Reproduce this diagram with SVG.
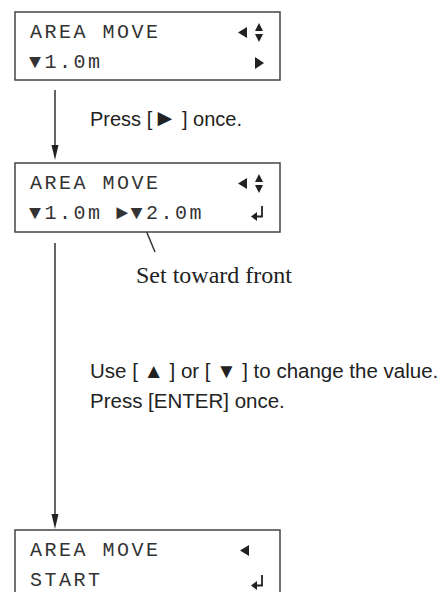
<svg xmlns="http://www.w3.org/2000/svg" width="446" height="592" viewBox="0 0 446 592">
<style>
.box{fill:#fff;stroke:#444;stroke-width:1.5}
.lcd{font-family:"Liberation Mono","Courier New",monospace;font-size:20px;fill:#333}
.sp{letter-spacing:2.5px}
.ico{fill:#222}
.lbl{font-family:"Liberation Sans",Arial,sans-serif;font-size:20px;fill:#222}
.lbl2{font-family:"Liberation Sans",Arial,sans-serif;font-size:20.5px;fill:#222}
.note{font-family:"Liberation Serif","Times New Roman",serif;font-size:24px;fill:#222}
.ln{stroke:#333;stroke-width:1.5;fill:none}
</style>
<defs>
<g id="updown"><polygon points="255,31 263,31 259,23"/><polygon points="255,34 263,34 259,42"/></g>
<g id="left"><polygon points="238,32.5 247,27 247,38"/></g>
<g id="enter"><path d="M262,206 V216.5 H256" stroke="#222" stroke-width="1.8" fill="none"/><polygon points="251,216.5 257,212 257,221"/></g>
</defs>

<g id="connectors">
<line class="ln" x1="55" y1="90" x2="55" y2="146"/>
<polygon points="51.5,145 58.5,145 55,160" fill="#222"/>
<line class="ln" x1="55" y1="243" x2="55" y2="515"/>
<polygon points="51.5,514 58.5,514 55,529" fill="#222"/>
<line class="ln" x1="145" y1="228" x2="155" y2="252" stroke-width="1"/>
</g>

<g id="screen1">
<rect class="box" x="15" y="12" width="265" height="68"/>
<text class="lcd sp" x="30" y="38">AREA MOVE</text>
<text class="lcd" x="29 44.5 59 73.5 88" y="68">▼1.0m</text>
<g class="ico"><use href="#left"/><use href="#updown"/><polygon points="255,57 255,69 264,63"/></g>
</g>

<g id="label1">
<text class="lbl" y="126"><tspan x="90">Press [</tspan><tspan x="153" font-size="24">►</tspan><tspan x="182">] once.</tspan></text>
</g>

<g id="screen2">
<rect class="box" x="15" y="163" width="265" height="69"/>
<text class="lcd sp" x="30" y="189">AREA MOVE</text>
<text class="lcd" x="29 44.5 59 73.5 88 102.5 116 130.5 146 160.5 175 189.5" y="219">▼1.0m ►▼2.0m</text>
<g class="ico" transform="translate(0,151)"><use href="#left"/><use href="#updown"/></g>
<g class="ico"><use href="#enter"/></g>
</g>

<g id="note">
<text class="note" x="136" y="283">Set toward front</text>
</g>

<g id="label2">
<text class="lbl2" x="90" y="378">Use [ ▲ ] or [ ▼ ] to change the value.</text>
<text class="lbl2" x="90" y="408">Press [ENTER] once.</text>
</g>

<g id="screen3">
<rect class="box" x="15" y="530" width="265" height="70"/>
<text class="lcd sp" x="30" y="556">AREA MOVE</text>
<text class="lcd sp" x="30" y="586">START</text>
<g class="ico" transform="translate(2,518)"><use href="#left"/></g>
<g class="ico" transform="translate(0,369)"><use href="#enter"/></g>
</g>
</svg>
